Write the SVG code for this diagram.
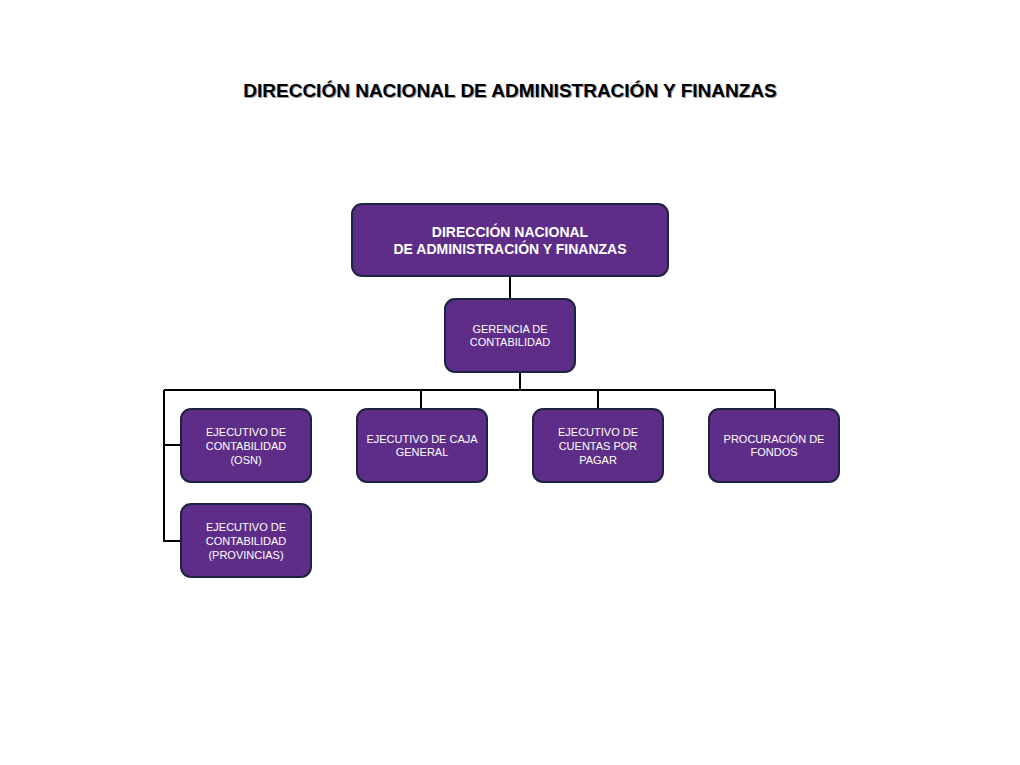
<svg xmlns="http://www.w3.org/2000/svg" width="1020" height="765" viewBox="0 0 1020 765">
<defs><style>
.n{fill:#5e2d87;stroke:#1d2442;stroke-width:2}
.t{font-family:"Liberation Sans",Arial,sans-serif;fill:#fff;font-size:11px;text-anchor:middle}
.b{font-weight:bold;font-size:14px}
.c{stroke:#000;stroke-width:2;fill:none}
</style></defs>
<rect width="1020" height="765" fill="#fff"/>
<text x="511" y="98" font-family="Liberation Sans,Arial,sans-serif" font-weight="bold" font-size="19" text-anchor="middle" fill="#999">DIRECCIÓN NACIONAL DE ADMINISTRACIÓN Y FINANZAS</text>
<text x="510" y="97" font-family="Liberation Sans,Arial,sans-serif" font-weight="bold" font-size="19" text-anchor="middle" fill="#000">DIRECCIÓN NACIONAL DE ADMINISTRACIÓN Y FINANZAS</text>
<g id="connectors" class="c">
<path d="M510 276V299"/>
<path d="M520 372V390"/>
<path d="M164 390H775"/>
<path d="M421 390V409M598 390V409M775 390V409"/>
<path d="M164 390V541H181M164 445H181"/>
</g>
<g id="dir"><rect class="n" x="352" y="204" width="316" height="72" rx="10"/>
<text class="t b" x="510" y="237">DIRECCIÓN NACIONAL</text><text class="t b" x="510" y="254">DE ADMINISTRACIÓN Y FINANZAS</text></g>
<g id="ger"><rect class="n" x="445" y="299" width="130" height="73" rx="10"/>
<text class="t" x="510" y="333">GERENCIA DE</text><text class="t" x="510" y="346">CONTABILIDAD</text></g>
<g id="osn"><rect class="n" x="181" y="409" width="130" height="73" rx="10"/>
<text class="t" x="246" y="436">EJECUTIVO DE</text><text class="t" x="246" y="450">CONTABILIDAD</text><text class="t" x="246" y="464">(OSN)</text></g>
<g id="caja"><rect class="n" x="357" y="409" width="130" height="73" rx="10"/>
<text class="t" x="422" y="443">EJECUTIVO DE CAJA</text><text class="t" x="422" y="456">GENERAL</text></g>
<g id="cxp"><rect class="n" x="533" y="409" width="130" height="73" rx="10"/>
<text class="t" x="598" y="436">EJECUTIVO DE</text><text class="t" x="598" y="450">CUENTAS POR</text><text class="t" x="598" y="464">PAGAR</text></g>
<g id="proc"><rect class="n" x="709" y="409" width="130" height="73" rx="10"/>
<text class="t" x="774" y="443">PROCURACIÓN DE</text><text class="t" x="774" y="456">FONDOS</text></g>
<g id="prov"><rect class="n" x="181" y="504" width="130" height="73" rx="10"/>
<text class="t" x="246" y="531">EJECUTIVO DE</text><text class="t" x="246" y="545">CONTABILIDAD</text><text class="t" x="246" y="559">(PROVINCIAS)</text></g>
</svg>
